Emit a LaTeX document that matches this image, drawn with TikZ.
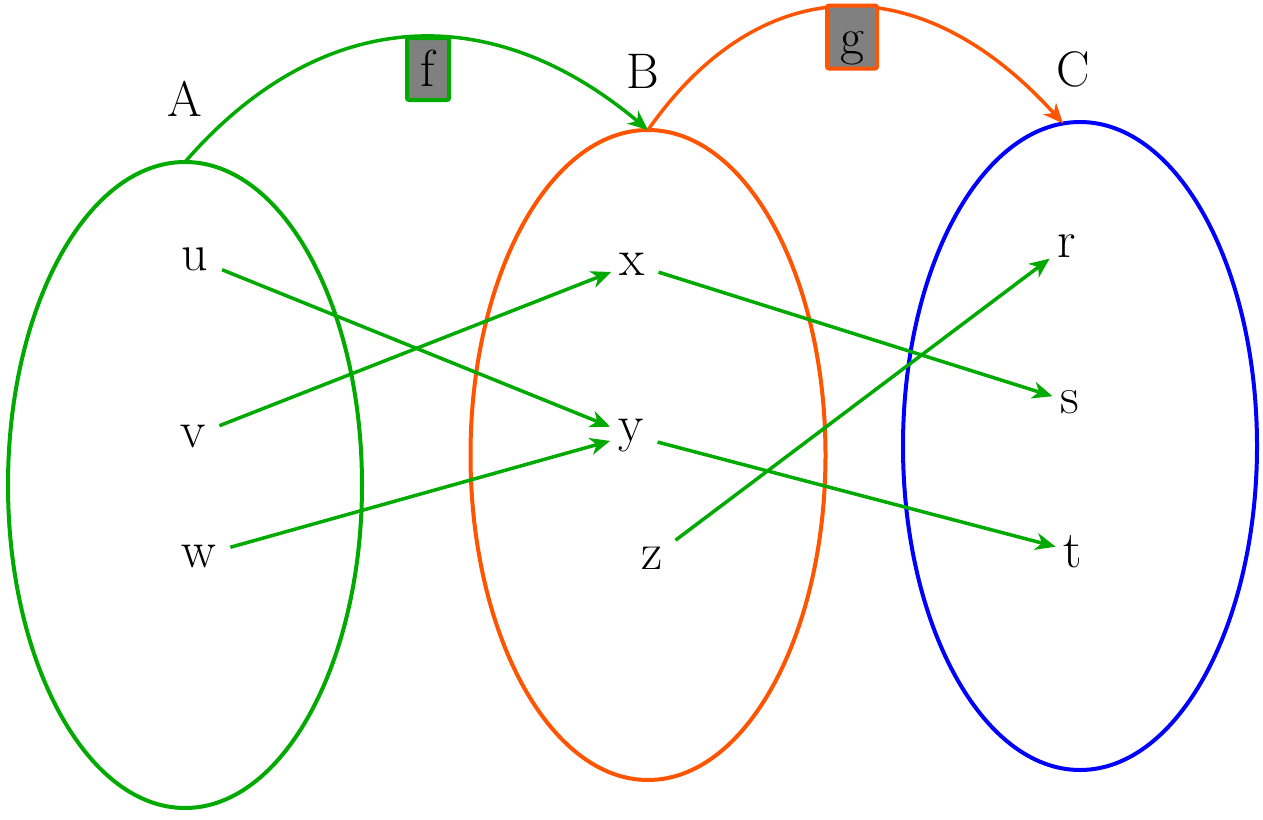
\documentclass[tikz,border=0pt]{standalone}
\usepackage{fontspec}
\usetikzlibrary{shapes.geometric,arrows.meta}
\definecolor{mapgreen}{RGB}{0,170,0}
\definecolor{maporange}{RGB}{255,85,0}
\definecolor{mapblue}{RGB}{0,0,255}
\tikzstyle{set}=[draw, ellipse, line width=4pt, minimum width=354pt, minimum height=646pt, inner sep=0pt, outer sep=0pt]
\tikzstyle{elem}=[anchor=base, inner sep=8pt, font=\fontsize{52}{60}\selectfont]
\tikzstyle{setname}=[anchor=base, font=\fontsize{50}{60}\selectfont]
\tikzstyle{fun}=[draw, fill=gray, line width=4pt, rounded corners=2pt, inner sep=0pt, text height=45pt, text depth=10pt, font=\fontsize{52}{60}\selectfont]
\tikzstyle{arrow}=[draw, line width=3.5pt, -{Stealth[length=20pt,width=17pt,inset=6pt]}]

\begin{document}
\begin{tikzpicture}[x=1pt, y=-1pt]
\useasboundingbox (0,0) rectangle (1263,819);

\node (setA) [set, draw=mapgreen] at (185,485) {};
\node (setB) [set, draw=maporange, minimum width=355pt, minimum height=650pt] at (648,455) {};
\node (setC) [set, draw=mapblue, minimum height=648pt] at (1080,446) {};

\node (nameA) [setname] at (185,116) {A};
\node (nameB) [setname] at (643,88) {B};
\node (nameC) [setname] at (1073,86) {C};

\node (u) [elem] at (195,270) {u};
\node (v) [elem] at (193,447) {v};
\node (w) [elem] at (199,567) {w};
\node (x) [elem] at (632,275) {x};
\node (y) [elem] at (631,441) {y};
\node (z) [elem] at (652,569) {z};
\node (r) [elem] at (1067,257) {r};
\node (s) [elem] at (1070,413) {s};
\node (t) [elem] at (1073,567) {t};

\draw [arrow, mapgreen] (setA.north) .. controls (317,10) and (486,-6) .. (setB.north);
\draw [arrow, maporange] (setB.north) .. controls (760,-30) and (920,-35) .. (setC.93);

\node (f) [fun, draw=mapgreen, minimum width=42pt, minimum height=62pt] at (428,69) {f};
\node (g) [fun, draw=maporange, minimum width=50pt, minimum height=63pt] at (852,37) {g};

\draw [arrow, mapgreen, shorten <=6pt] (u) -- (y);
\draw [arrow, mapgreen, shorten <=6pt] (v) -- (x);
\draw [arrow, mapgreen, shorten <=6pt] (w) -- (y);
\draw [arrow, mapgreen, shorten <=6pt] (x) -- (s);
\draw [arrow, mapgreen, shorten <=6pt] (y) -- (t);
\draw [arrow, mapgreen, shorten <=6pt] (z) -- (r);

\end{tikzpicture}
\end{document}
